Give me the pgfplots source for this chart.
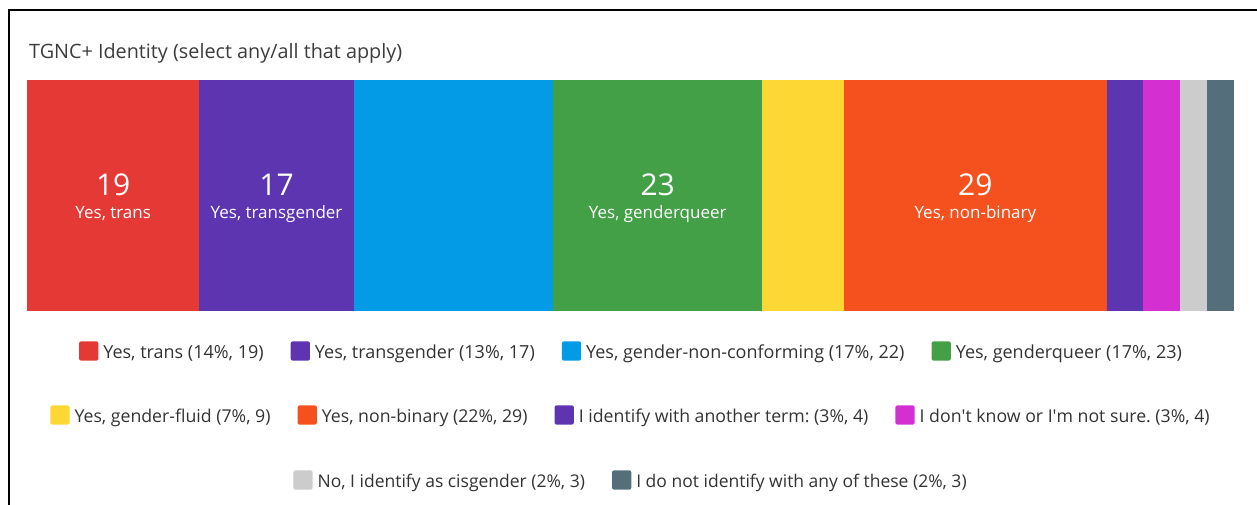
\documentclass[border=0pt]{standalone}
\usepackage{fontspec}
\setmainfont{Open Sans}
\usepackage{pgfplots}
\pgfplotsset{compat=1.18}
\definecolor{c1}{HTML}{E53935}
\definecolor{c2}{HTML}{5E35B1}
\definecolor{c3}{HTML}{039BE5}
\definecolor{c4}{HTML}{43A047}
\definecolor{c5}{HTML}{FDD835}
\definecolor{c6}{HTML}{F4511E}
\definecolor{c7}{HTML}{5E35B1}
\definecolor{c8}{RGB}{211,47,209}
\definecolor{c9}{HTML}{CCCCCC}
\definecolor{c10}{HTML}{546E7A}
\definecolor{legtext}{HTML}{333333}
\definecolor{titletext}{HTML}{3C3C3C}
\tikzset{
  bignum/.style={text=white, inner sep=0pt, anchor=base, font=\fontsize{30}{30}\selectfont},
  biglab/.style={text=white, inner sep=0pt, anchor=base, font=\fontsize{17}{20}\selectfont}
}
\pgfplotsset{
  legrow/.style={
    hide axis, scale only axis, width=10pt, height=10pt,
    xmin=0, xmax=1, ymin=0, ymax=1, anchor=center,
    legend columns=-1,
    legend cell align=left,
    legend style={at={(0.5,0.5)}, anchor=center, draw=none, fill=none,
      inner sep=0pt, font=\fontsize{#1}{22}\selectfont\frenchspacing, text=legtext,
      column sep=5pt, /tikz/every even column/.append style={column sep=27pt},
      nodes={inner sep=0pt}},
    legend image code/.code={\fill[##1, rounded corners=2pt] (0pt,-8.2pt) rectangle (19.3pt,11pt);}
  }
}
\begin{document}
\begin{tikzpicture}
\path[use as bounding box] (0pt,0pt) rectangle (1257pt,-505pt);
\draw[line width=2.5pt, black] (9pt,-505pt) -- (9pt,-10pt) -- (1257pt,-10pt);
\node[anchor=base west, inner sep=0pt, text=titletext, font=\fontsize{19.8}{23}\selectfont] at (29pt,-58.5pt) {TGNC+ Identity (select any/all that apply)};
\begin{axis}[
  at={(27pt,-311pt)}, anchor=south west,
  scale only axis, width=1207pt, height=231pt,
  xbar stacked, bar width=231pt,
  xmin=0, xmax=133, ymin=-0.5, ymax=0.5,
  hide axis, clip=false,
]
\addplot[fill=c1, draw=none] coordinates {(19,0)};
\addplot[fill=c2, draw=none] coordinates {(17,0)};
\addplot[fill=c3, draw=none] coordinates {(22,0)};
\addplot[fill=c4, draw=none] coordinates {(23,0)};
\addplot[fill=c5, draw=none] coordinates {(9,0)};
\addplot[fill=c6, draw=none] coordinates {(29,0)};
\addplot[fill=c7, draw=none] coordinates {(4,0)};
\addplot[fill=c8, draw=none] coordinates {(4,0)};
\addplot[fill=c9, draw=none] coordinates {(3,0)};
\addplot[fill=c10, draw=none] coordinates {(3,0)};
\coordinate (s1) at (axis cs:9.5,0);
\coordinate (s2) at (axis cs:27.5,0);
\coordinate (s4) at (axis cs:69.5,0);
\coordinate (s6) at (axis cs:104.5,0);
\end{axis}
\node[bignum] at ([yshift=-0.5pt]s1) {19};
\node[biglab] at ([yshift=-23pt]s1) {Yes, trans};
\node[bignum] at ([yshift=-0.5pt]s2) {17};
\node[biglab] at ([yshift=-23pt]s2) {Yes, transgender};
\node[bignum] at ([yshift=-0.5pt]s4) {23};
\node[biglab] at ([yshift=-23pt]s4) {Yes, genderqueer};
\node[bignum] at ([yshift=-0.5pt]s6) {29};
\node[biglab] at ([yshift=-23pt]s6) {Yes, non-binary};
% legend row 1
\begin{axis}[legrow=18, at={(630.5pt,-351pt)}]
\addplot[draw=none, forget plot] coordinates {(0,0)};
\addlegendimage{fill=c1, draw=none}\addlegendentry{Yes, trans (14\%, 19)}
\addlegendimage{fill=c2, draw=none}\addlegendentry{Yes, transgender (13\%, 17)}
\addlegendimage{fill=c3, draw=none}\addlegendentry{Yes, gender-non-conforming (17\%, 22)}
\addlegendimage{fill=c4, draw=none}\addlegendentry{Yes, genderqueer (17\%, 23)}
\end{axis}
% legend row 2
\begin{axis}[legrow=17.7, at={(630pt,-415pt)}]
\addplot[draw=none, forget plot] coordinates {(0,0)};
\addlegendimage{fill=c5, draw=none}\addlegendentry{Yes, gender-fluid (7\%, 9)}
\addlegendimage{fill=c6, draw=none}\addlegendentry{Yes, non-binary (22\%, 29)}
\addlegendimage{fill=c7, draw=none}\addlegendentry{I identify with another term: (3\%, 4)}
\addlegendimage{fill=c8, draw=none}\addlegendentry{I don\textquotesingle t know or I\textquotesingle m not sure. (3\%, 4)}
\end{axis}
% legend row 3
\begin{axis}[legrow=17.5, at={(630pt,-480pt)}]
\addplot[draw=none, forget plot] coordinates {(0,0)};
\addlegendimage{fill=c9, draw=none}\addlegendentry{No, I identify as cisgender (2\%, 3)}
\addlegendimage{fill=c10, draw=none}\addlegendentry{I do not identify with any of these (2\%, 3)}
\end{axis}
\end{tikzpicture}
\end{document}
